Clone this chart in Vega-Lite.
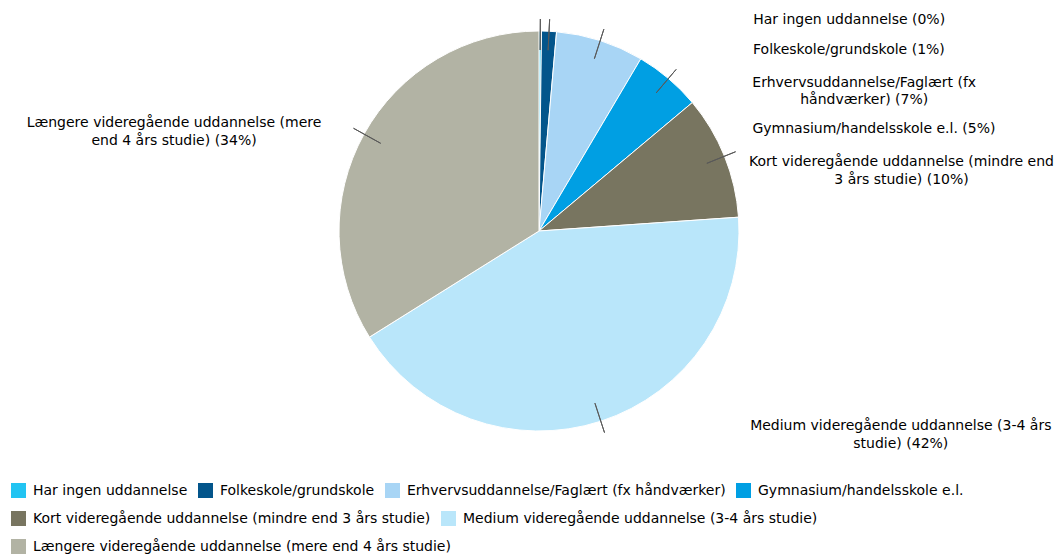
{
  "$schema": "https://vega.github.io/schema/vega-lite/v6.json",
  "width": 1056,
  "height": 462,
  "autosize": {"type": "none"},
  "padding": {"left": 11, "top": 0, "right": 0, "bottom": 93},
  "background": "white",
  "config": {
    "view": {"stroke": null},
    "text": {"font": "DejaVu Sans", "fontSize": 14, "color": "#000000"},
    "legend": {
      "layout": {"bottom": {"anchor": "start", "direction": "vertical", "margin": 13}}
    }
  },
  "data": {
    "values": [
      {"category": "Har ingen uddannelse", "value": 0.2, "label": "Har ingen uddannelse (0%)"},
      {"category": "Folkeskole/grundskole", "value": 1.2, "label": "Folkeskole/grundskole (1%)"},
      {"category": "Erhvervsuddannelse/Faglært (fx håndværker)", "value": 7.1, "label": "Erhvervsuddannelse/Faglært (fx\nhåndværker) (7%)"},
      {"category": "Gymnasium/handelsskole e.l.", "value": 5.4, "label": "Gymnasium/handelsskole e.l. (5%)"},
      {"category": "Kort videregående uddannelse (mindre end 3 års studie)", "value": 10.0, "label": "Kort videregående uddannelse (mindre end\n3 års studie) (10%)"},
      {"category": "Medium videregående uddannelse (3-4 års studie)", "value": 42.2, "label": "Medium videregående uddannelse (3-4 års\nstudie) (42%)"},
      {"category": "Længere videregående uddannelse (mere end 4 års studie)", "value": 33.9, "label": "Længere videregående uddannelse (mere\nend 4 års studie) (34%)"}
    ]
  },
  "transform": [
    {"stack": "value", "groupby": [], "as": ["start", "end"]},
    {"calculate": "(datum.start + datum.end) / 2", "as": "mid"}
  ],
  "layer": [
    {
      "transform": [{"filter": {"field": "category", "oneOf": ["Har ingen uddannelse", "Folkeskole/grundskole", "Erhvervsuddannelse/Faglært (fx håndværker)", "Gymnasium/handelsskole e.l."]}}],
      "mark": {"type": "arc", "outerRadius": 200, "stroke": "white", "strokeWidth": 1},
      "encoding": {
        "theta": {"field": "start", "type": "quantitative", "scale": {"domain": [0, 100]}, "stack": null},
        "theta2": {"field": "end"},
        "color": {
          "field": "category", "type": "nominal",
          "scale": {"domain": ["Har ingen uddannelse", "Folkeskole/grundskole", "Erhvervsuddannelse/Faglært (fx håndværker)", "Gymnasium/handelsskole e.l."], "range": ["#22C4F2", "#03558B", "#A8D5F5", "#009FE3"]},
          "legend": {"title": null, "orient": "bottom", "direction": "horizontal", "symbolType": "square", "symbolSize": 225, "symbolStrokeWidth": 0, "symbolOpacity": 1, "labelFont": "DejaVu Sans", "labelFontSize": 14, "labelColor": "#000000", "columnPadding": 10, "labelOffset": 7, "padding": 0, "offset": 21, "labelLimit": 0}
        }
      }
    },
    {
      "transform": [{"filter": {"field": "category", "oneOf": ["Kort videregående uddannelse (mindre end 3 års studie)", "Medium videregående uddannelse (3-4 års studie)"]}}],
      "mark": {"type": "arc", "outerRadius": 200, "stroke": "white", "strokeWidth": 1},
      "encoding": {
        "theta": {"field": "start", "type": "quantitative", "scale": {"domain": [0, 100]}, "stack": null},
        "theta2": {"field": "end"},
        "color": {
          "field": "category", "type": "nominal",
          "scale": {"domain": ["Kort videregående uddannelse (mindre end 3 års studie)", "Medium videregående uddannelse (3-4 års studie)"], "range": ["#787560", "#B9E6FA"]},
          "legend": {"title": null, "orient": "bottom", "direction": "horizontal", "symbolType": "square", "symbolSize": 225, "symbolStrokeWidth": 0, "symbolOpacity": 1, "labelFont": "DejaVu Sans", "labelFontSize": 14, "labelColor": "#000000", "columnPadding": 10, "labelOffset": 7, "padding": 0, "offset": 21, "labelLimit": 0}
        }
      }
    },
    {
      "transform": [{"filter": {"field": "category", "oneOf": ["Længere videregående uddannelse (mere end 4 års studie)"]}}],
      "mark": {"type": "arc", "outerRadius": 200, "stroke": "white", "strokeWidth": 1},
      "encoding": {
        "theta": {"field": "start", "type": "quantitative", "scale": {"domain": [0, 100]}, "stack": null},
        "theta2": {"field": "end"},
        "color": {
          "field": "category", "type": "nominal",
          "scale": {"domain": ["Længere videregående uddannelse (mere end 4 års studie)"], "range": ["#B2B3A4"]},
          "legend": {"title": null, "orient": "bottom", "direction": "horizontal", "symbolType": "square", "symbolSize": 225, "symbolStrokeWidth": 0, "symbolOpacity": 1, "labelFont": "DejaVu Sans", "labelFontSize": 14, "labelColor": "#000000", "columnPadding": 10, "labelOffset": 7, "padding": 0, "offset": 21, "labelLimit": 0}
        }
      }
    },
    {
      "mark": {"type": "arc", "innerRadius": 181, "outerRadius": 212, "fill": null, "filled": false, "stroke": "#595959", "strokeWidth": 1},
      "encoding": {
        "theta": {"field": "mid", "type": "quantitative", "stack": null},
        "theta2": {"field": "mid"}
      }
    },
    {
      "transform": [{"filter": {"field": "category", "equal": "Har ingen uddannelse"}}],
      "mark": {"type": "text", "radius": 200, "align": "left", "baseline": "middle", "lineBreak": "\n", "dx": 213, "dy": -11.5},
      "encoding": {"theta": {"field": "mid", "type": "quantitative", "stack": null}, "text": {"field": "label"}}
    },
    {
      "transform": [{"filter": {"field": "category", "equal": "Folkeskole/grundskole"}}],
      "mark": {"type": "text", "radius": 200, "align": "left", "baseline": "middle", "lineBreak": "\n", "dx": 204, "dy": 19},
      "encoding": {"theta": {"field": "mid", "type": "quantitative", "stack": null}, "text": {"field": "label"}}
    },
    {
      "transform": [{"filter": {"field": "category", "equal": "Erhvervsuddannelse/Faglært (fx håndværker)"}}],
      "mark": {"type": "text", "radius": 200, "align": "center", "baseline": "middle", "lineBreak": "\n", "lineHeight": 17, "dx": 264, "dy": 42.5},
      "encoding": {"theta": {"field": "mid", "type": "quantitative", "stack": null}, "text": {"field": "label"}}
    },
    {
      "transform": [{"filter": {"field": "category", "equal": "Gymnasium/handelsskole e.l."}}],
      "mark": {"type": "text", "radius": 200, "align": "left", "baseline": "middle", "lineBreak": "\n", "dx": 84, "dy": 50},
      "encoding": {"theta": {"field": "mid", "type": "quantitative", "stack": null}, "text": {"field": "label"}}
    },
    {
      "transform": [{"filter": {"field": "category", "equal": "Kort videregående uddannelse (mindre end 3 års studie)"}}],
      "mark": {"type": "text", "radius": 200, "align": "center", "baseline": "middle", "lineBreak": "\n", "lineHeight": 18, "dx": 177, "dy": 5.5},
      "encoding": {"theta": {"field": "mid", "type": "quantitative", "stack": null}, "text": {"field": "label"}}
    },
    {
      "transform": [{"filter": {"field": "category", "equal": "Medium videregående uddannelse (3-4 års studie)"}}],
      "mark": {"type": "text", "radius": 200, "align": "center", "baseline": "middle", "lineBreak": "\n", "lineHeight": 18, "dx": 300, "dy": 5},
      "encoding": {"theta": {"field": "mid", "type": "quantitative", "stack": null}, "text": {"field": "label"}}
    },
    {
      "transform": [{"filter": {"field": "category", "equal": "Længere videregående uddannelse (mere end 4 års studie)"}}],
      "mark": {"type": "text", "radius": 200, "align": "center", "baseline": "middle", "lineBreak": "\n", "lineHeight": 18, "dx": -190, "dy": -11.5},
      "encoding": {"theta": {"field": "mid", "type": "quantitative", "stack": null}, "text": {"field": "label"}}
    }
  ],
  "resolve": {"scale": {"color": "independent"}}
}
